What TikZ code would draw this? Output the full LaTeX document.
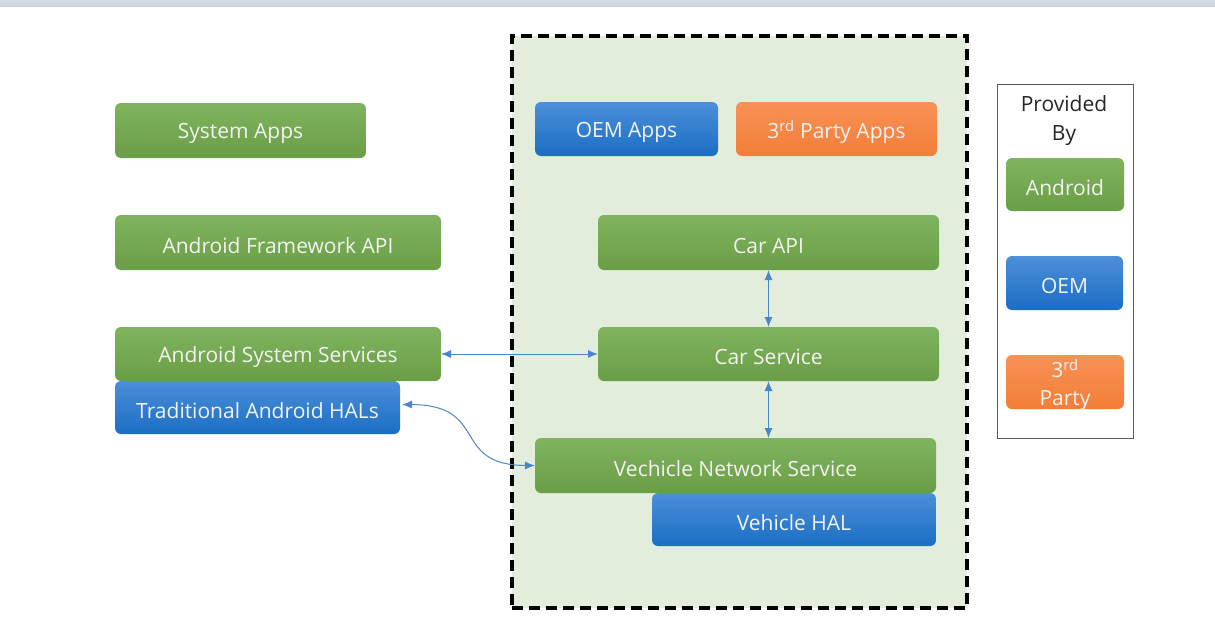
\documentclass[tikz,border=0pt]{standalone}
\usepackage{fontspec}
\setmainfont{Open Sans}
\usetikzlibrary{arrows.meta}
\definecolor{gtop}{HTML}{80B35E}
\definecolor{gbot}{HTML}{6A9E46}
\definecolor{btop}{HTML}{4D8FD9}
\definecolor{bbot}{HTML}{1A6EC4}
\definecolor{otop}{HTML}{F89155}
\definecolor{obot}{HTML}{F27E38}
\definecolor{panel}{HTML}{E3EDDC}
\definecolor{arr}{HTML}{4A86C8}
\definecolor{txt}{HTML}{F3F3F3}
\definecolor{topbar}{HTML}{CBD3DE}
\tikzset{
  box/.style={rounded corners=6pt, inner sep=0pt, outer sep=0pt, text=txt,
    font=\fontsize{21}{29}\selectfont, align=center},
  gbox/.style={box, top color=gtop, bottom color=gbot},
  bbox/.style={box, top color=btop, bottom color=bbot},
  obox/.style={box, top color=otop, bottom color=obot},
  link/.style={arr, line width=1pt, {Latex[length=10pt,width=8pt]}-{Latex[length=10pt,width=8pt]}},
}
\newcommand{\lowered}[1]{\raisebox{-3pt}[\height][\depth]{#1}}
\begin{document}
\begin{tikzpicture}[x=1pt,y=-1pt]
\useasboundingbox[fill=white] (0,0) rectangle (1215,629);
\fill[top color=topbar!80, bottom color=topbar] (0,0) rectangle (1215,6);
% dashed panel
\node[draw=black, fill=panel, line width=3.3pt, dash pattern=on 11pt off 6pt,
  minimum width=455pt, minimum height=572pt, inner sep=0pt] (panel) at (739.5,322) {};
% left column
\node[gbox, minimum width=251pt, minimum height=55pt] (sysapps) at (240.5,130.5) {\lowered{System Apps}};
\node[gbox, minimum width=326pt, minimum height=55pt] (fwapi) at (278,242.5) {\lowered{Android Framework API}};
\node[gbox, minimum width=326pt, minimum height=54pt] (syssvc) at (278,354) {\lowered{Android System Services}};
\node[bbox, minimum width=285pt, minimum height=53pt] (thal) at (257.5,407.5) {\lowered{Traditional Android HALs}};
% panel contents
\node[bbox, minimum width=183pt, minimum height=54pt] (oemapps) at (626.5,129) {\lowered{OEM Apps}};
\node[obox, minimum width=201pt, minimum height=54pt] (tpapps) at (836.5,129) {\lowered{3\textsuperscript{rd} Party Apps}};
\node[gbox, minimum width=341pt, minimum height=55pt] (carapi) at (768.5,242.5) {\lowered{Car API}};
\node[gbox, minimum width=341pt, minimum height=54pt] (carsvc) at (768.5,354) {\lowered{Car Service}};
\node[gbox, minimum width=401pt, minimum height=55pt] (vns) at (735.5,465.5) {\lowered{Vechicle Network Service}};
\node[bbox, minimum width=284pt, minimum height=53pt] (vhal) at (794,519.5) {\lowered{Vehicle HAL}};
% legend
\node[draw=black!65, line width=1pt, fill=white, minimum width=136pt, minimum height=354pt, inner sep=0pt] (legend) at (1065,261) {};
\node[font=\fontsize{21}{29}\selectfont, align=center, text=black!85, anchor=north] (provided) at (1064,92) {Provided\\By};
\node[gbox, minimum width=118pt, minimum height=53pt] (lgand) at (1065,184.5) {\lowered{Android}};
\node[bbox, minimum width=117pt, minimum height=54pt] (lgoem) at (1064.5,283) {\lowered{OEM}};
\node[obox, minimum width=118pt, minimum height=54pt, font=\fontsize{21}{28}\selectfont] (lgtp) at (1065,382) {\lowered{3\textsuperscript{rd}}\\\lowered{Party}};
% connectors
\draw[link] (carapi.south) -- (carsvc.north);
\draw[link] (carsvc.south) -- (carsvc.south |- vns.north);
\draw[link] (syssvc.east) -- (carsvc.west);
\coordinate (thalR) at ([xshift=2pt,yshift=3pt]thal.east);
\coordinate (vnsL) at (vns.west);
\draw[link] (thalR) .. controls (490,405) and (450,465) .. (vnsL);
\end{tikzpicture}
\end{document}
